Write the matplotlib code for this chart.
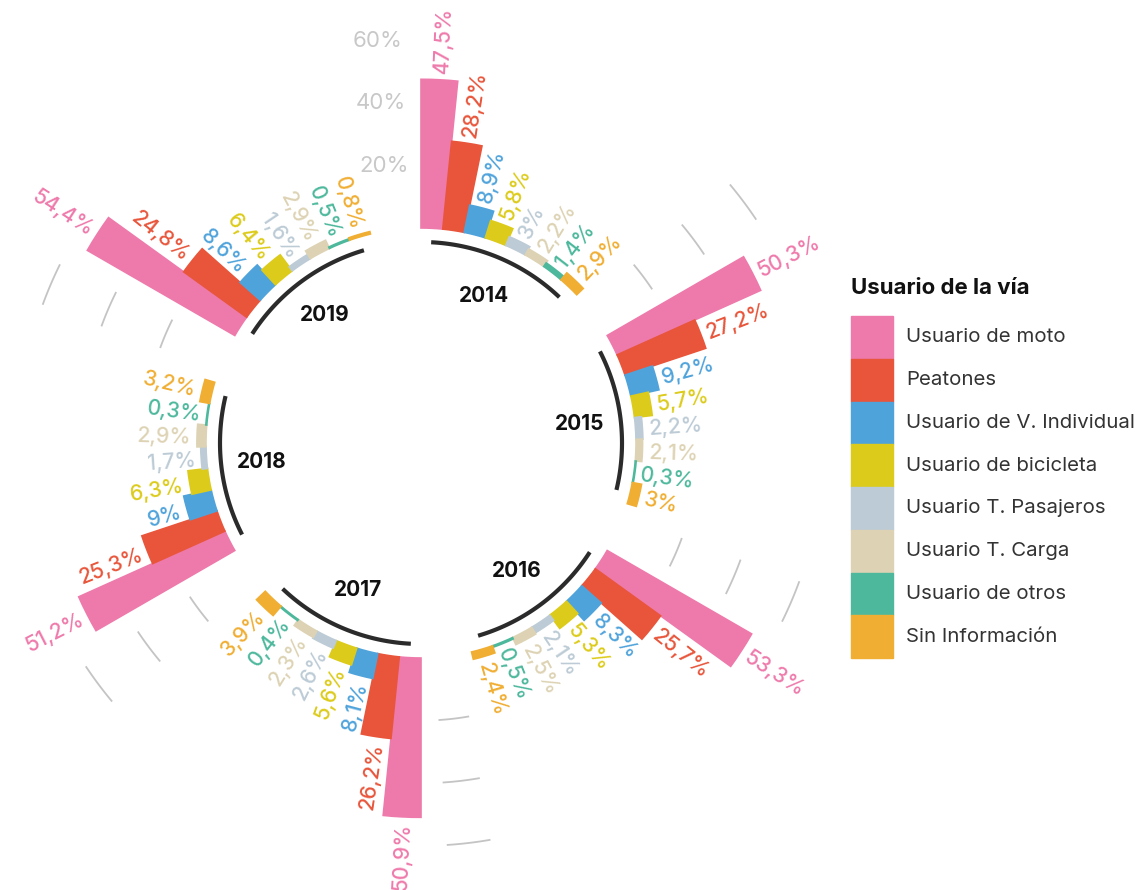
import numpy as np
import matplotlib.pyplot as plt
from matplotlib.patches import Rectangle

plt.rcParams['font.family'] = ['Inter', 'DejaVu Sans']

years = ['2014', '2015', '2016', '2017', '2018', '2019']
categories = ['Usuario de moto', 'Peatones', 'Usuario de V. Individual',
              'Usuario de bicicleta', 'Usuario T. Pasajeros', 'Usuario T. Carga',
              'Usuario de otros', 'Sin Información']
colors = ['#ee7aab', '#e8553b', '#4fa3db', '#dccb1a',
          '#bccbd5', '#ddd3b4', '#4db89c', '#f0ae33']

# share of victims per road user (%), same order as categories
v2014 = [47.5, 28.2, 8.9, 5.8, 3.0, 2.2, 1.4, 2.9]
v2015 = [50.3, 27.2, 9.2, 5.7, 2.2, 2.1, 0.3, 3.0]
v2016 = [53.3, 25.7, 8.3, 5.3, 2.1, 2.5, 0.5, 2.4]
v2017 = [50.9, 26.2, 8.1, 5.6, 2.6, 2.3, 0.4, 3.9]
v2018 = [51.2, 25.3, 9.0, 6.3, 1.7, 2.9, 0.3, 3.2]
v2019 = [54.4, 24.8, 8.6, 6.4, 1.6, 2.9, 0.5, 0.8]
values = [v2014, v2015, v2016, v2017, v2018, v2019]

grid_levels = [20, 40, 60]

W, H = 1138, 890
cx, cy, R = 421, 443, 440     # circle centre and axes radius in pixels
PX = 3.13                     # pixels per percentage point
R0 = 215 / PX                 # bars start here
bar_w = np.deg2rad(5.8)
pad = 6 / PX


def fmt(v):
    return f'{v:g}'.replace('.', ',') + '%'


fig = plt.figure(figsize=(W / 100, H / 100), dpi=100)

ax = fig.add_axes([(cx - R) / W, (H - cy - R) / H, 2 * R / W, 2 * R / H],
                  projection='polar')
ax.set_theta_zero_location('N')
ax.set_theta_direction(-1)
ax.set_ylim(0, R / PX)
ax.axis('off')

for g, vals in enumerate(values):
    start = np.deg2rad(60 * g)
    theta = start + (np.arange(len(vals)) + 0.5) * bar_w
    ax.bar(theta, vals, width=bar_w, bottom=R0, color=colors,
           edgecolor=colors, linewidth=1.2, zorder=3)

    for t, v, c in zip(theta, vals, colors):
        deg = np.rad2deg(t) % 360
        if deg < 180:
            rot, ha = 90 - deg, 'left'
        else:
            rot, ha = 270 - deg, 'right'
        ax.text(t, R0 + v + pad, fmt(v), rotation=rot, rotation_mode='anchor',
                ha=ha, va='center_baseline', color=c, fontsize=15.3,
                fontweight='medium')

    # dark arc under each year group
    arc = np.linspace(theta[0], theta[-1], 100)
    ax.plot(arc, np.full_like(arc, 201 / PX), color='#2b2b2b', lw=3,
            solid_capstyle='butt')
    ax.text(start + 4 * bar_w, 160 / PX, years[g], ha='center', va='center',
            fontweight='bold', fontsize=15, color='#111111')

    # short grid marks in the gap after the group
    if g < len(values) - 1:
        mid = start + np.deg2rad((8 * 5.8 + 60) / 2)
        seg = np.linspace(mid - np.deg2rad(3), mid + np.deg2rad(3), 20)
        for lvl in grid_levels:
            ax.plot(seg, np.full_like(seg, R0 + lvl), color='#c4c4c4', lw=1.3)

for lvl in grid_levels:
    ax.text(np.deg2rad(-2.6), R0 + lvl, f'{lvl}%', ha='right', va='center',
            color='#c8c8c8', fontsize=16)

# legend drawn in pixel coordinates
lax = fig.add_axes([0, 0, 1, 1], zorder=-1)
lax.set_xlim(0, W)
lax.set_ylim(H, 0)
lax.axis('off')
lax.text(851, 288, 'Usuario de la vía', fontweight='bold', fontsize=16,
         va='center', color='#111111')
sw_h = 42.75
for i, (lab, c) in enumerate(zip(categories, colors)):
    y0 = 316 + i * sw_h
    lax.add_patch(Rectangle((851, y0), 42, sw_h, color=c))
    lax.text(906, y0 + sw_h / 2, lab, va='center', fontsize=14.7,
             color='#333333')

fig.savefig('out.png', dpi=100)
